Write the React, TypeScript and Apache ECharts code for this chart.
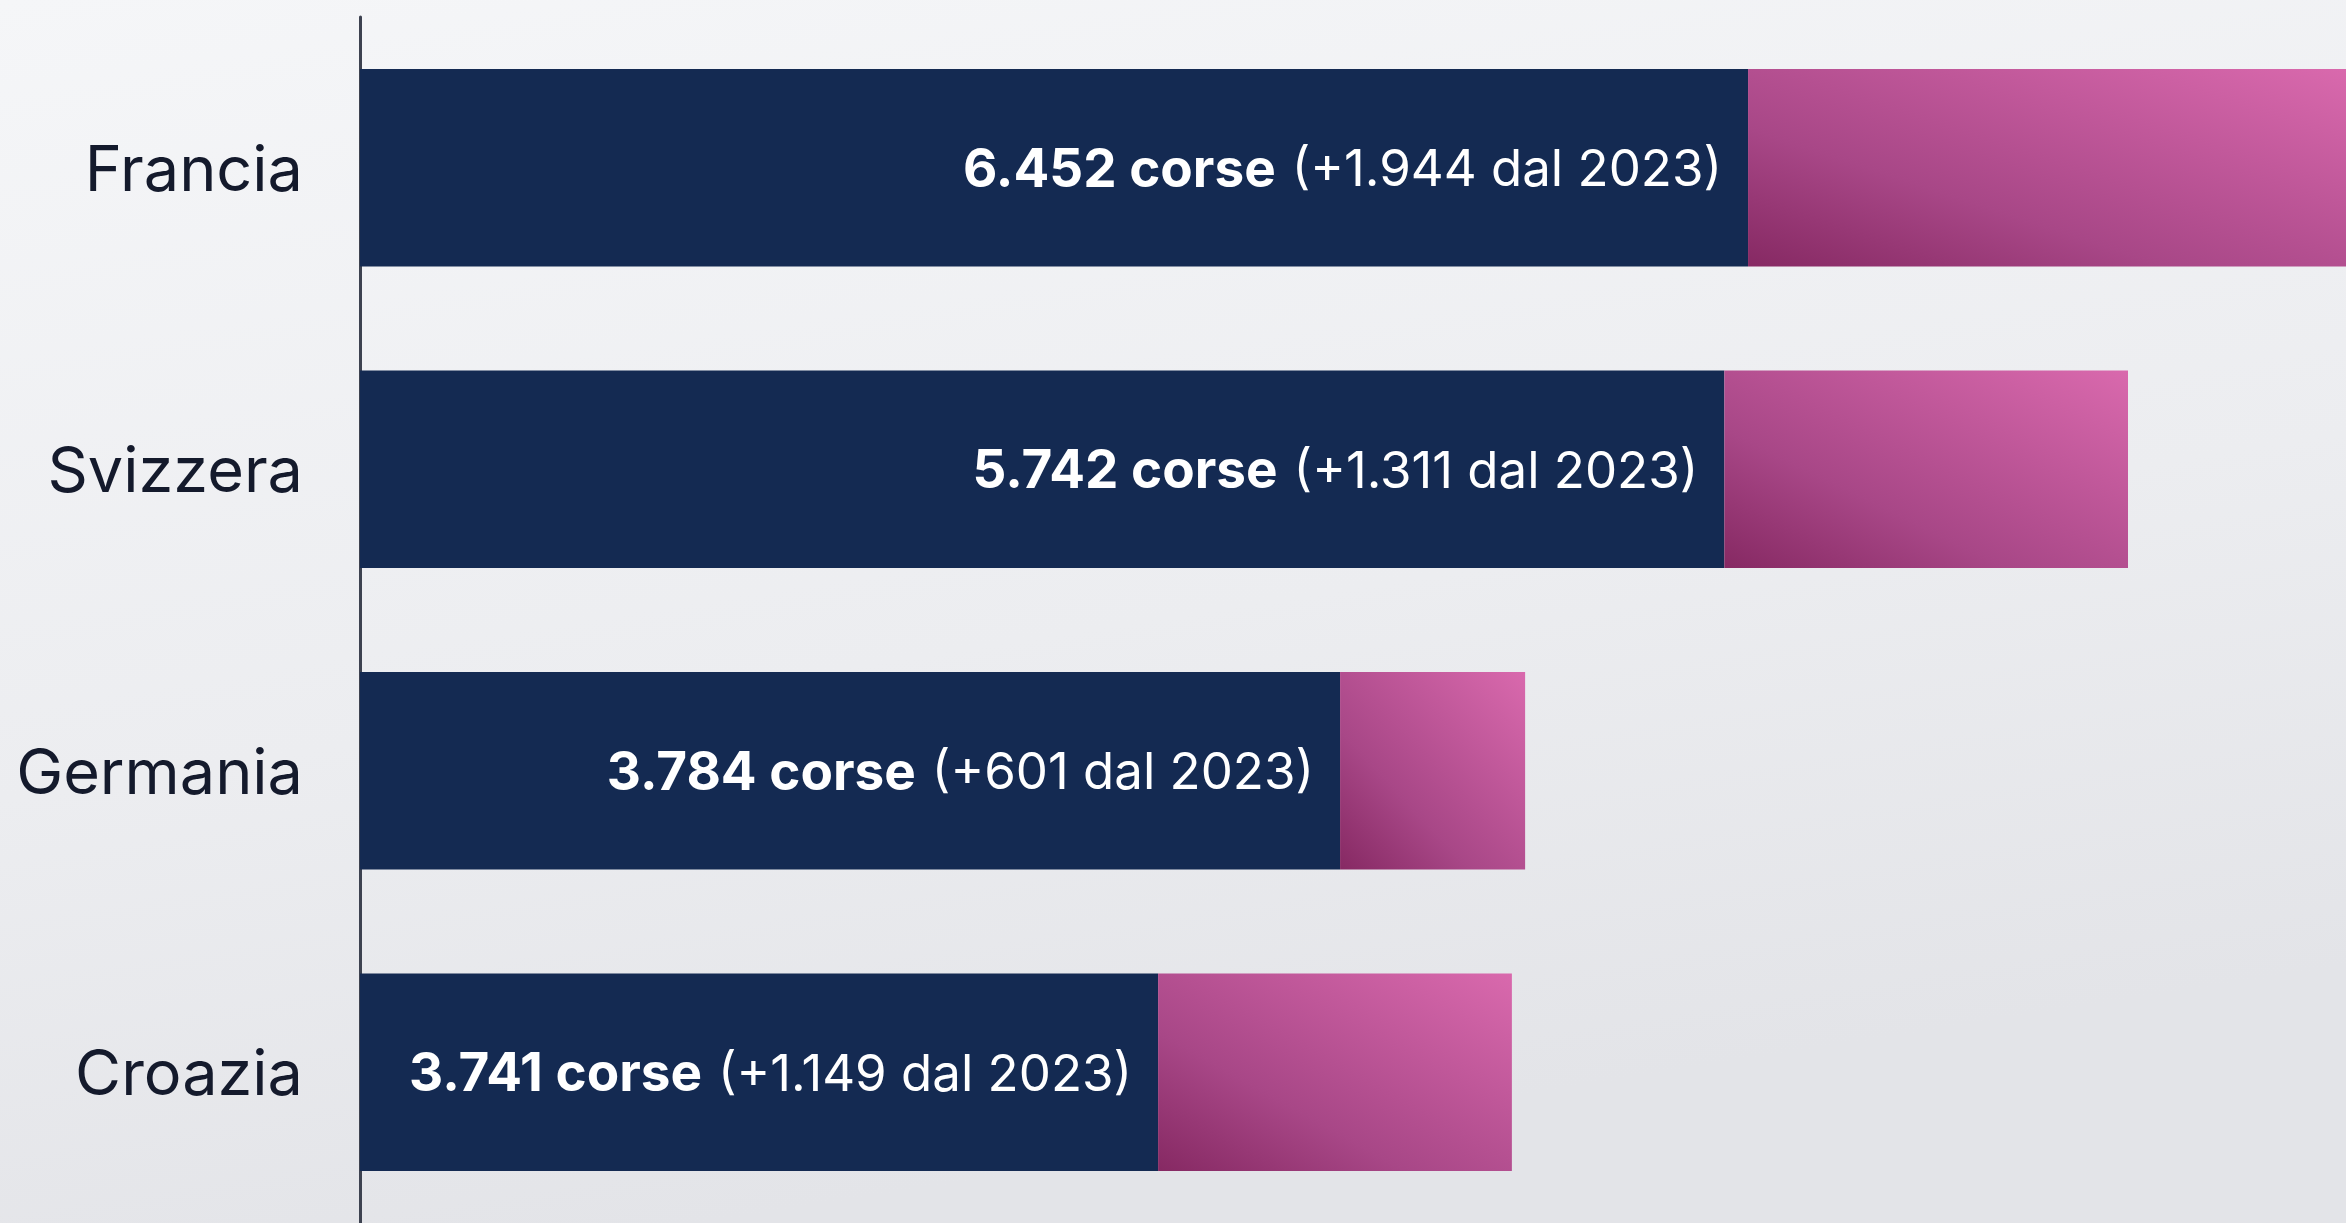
import React, { useEffect, useRef } from "react";
import * as echarts from "echarts";

const countries = ["Francia", "Svizzera", "Germania", "Croazia"];
const total2024 = [6452, 5742, 3784, 3741];
const increaseSince2023 = [1944, 1311, 601, 1149];
const base2023 = total2024.map((t, i) => t - increaseSince2023[i]);

const fmt = (n: number) => String(n).replace(/\B(?=(\d{3})+(?!\d))/g, ".");

const FONT = "Inter, 'Noto Sans', sans-serif";

export default function App() {
  const ref = useRef<HTMLDivElement>(null);
  useEffect(() => {
    if (!ref.current) return;
    const chart = echarts.init(ref.current, null, { renderer: "svg" });
    chart.setOption({
      animation: false,
      backgroundColor: new echarts.graphic.LinearGradient(0, 0, 0.3, 1, [
        { offset: 0, color: "#f5f6f8" },
        { offset: 0.6, color: "#ecedf0" },
        { offset: 1, color: "#e3e4e8" },
      ]),
      grid: { left: 360, right: 0, top: 17, height: 1210, containLabel: false },
      xAxis: {
        type: "value",
        min: 0,
        max: 6450,
        show: false,
      },
      yAxis: {
        type: "category",
        inverse: true,
        data: countries,
        axisLine: { show: true, lineStyle: { color: "#3d4250", width: 3 } },
        axisTick: { show: false },
        axisLabel: {
          color: "#141a2c",
          fontSize: 63,
          fontFamily: FONT,
          fontWeight: 400,
          margin: 57,
        },
      },
      series: [
        {
          type: "bar",
          stack: "tot",
          barWidth: "65.5%",
          data: base2023,
          itemStyle: { color: "#142a52" },
          label: {
            show: true,
            position: "insideRight",
            distance: 26,
            formatter: (p: any) =>
              `{b|${fmt(total2024[p.dataIndex])} corse}{r|(+${fmt(
                increaseSince2023[p.dataIndex]
              )} dal 2023)}`,
            rich: {
              b: {
                color: "#ffffff",
                fontSize: 53,
                fontWeight: 700,
                fontFamily: FONT,
              },
              r: {
                color: "#ffffff",
                fontSize: 51,
                fontWeight: 400,
                fontFamily: FONT,
                padding: [0, 0, 0, 16],
              },
            },
          },
        },
        {
          type: "bar",
          stack: "tot",
          barWidth: "65.5%",
          data: increaseSince2023,
          itemStyle: {
            color: new echarts.graphic.LinearGradient(0, 1, 1, 0, [
              { offset: 0, color: "#862963" },
              { offset: 0.35, color: "#a84787" },
              { offset: 1, color: "#d969ad" },
            ]),
          },
        },
      ],
    });
    return () => chart.dispose();
  }, []);
  return (
    <div
      ref={ref}
      style={{ position: "absolute", left: 0, top: 0, width: 2346, height: 1223 }}
    />
  );
}
